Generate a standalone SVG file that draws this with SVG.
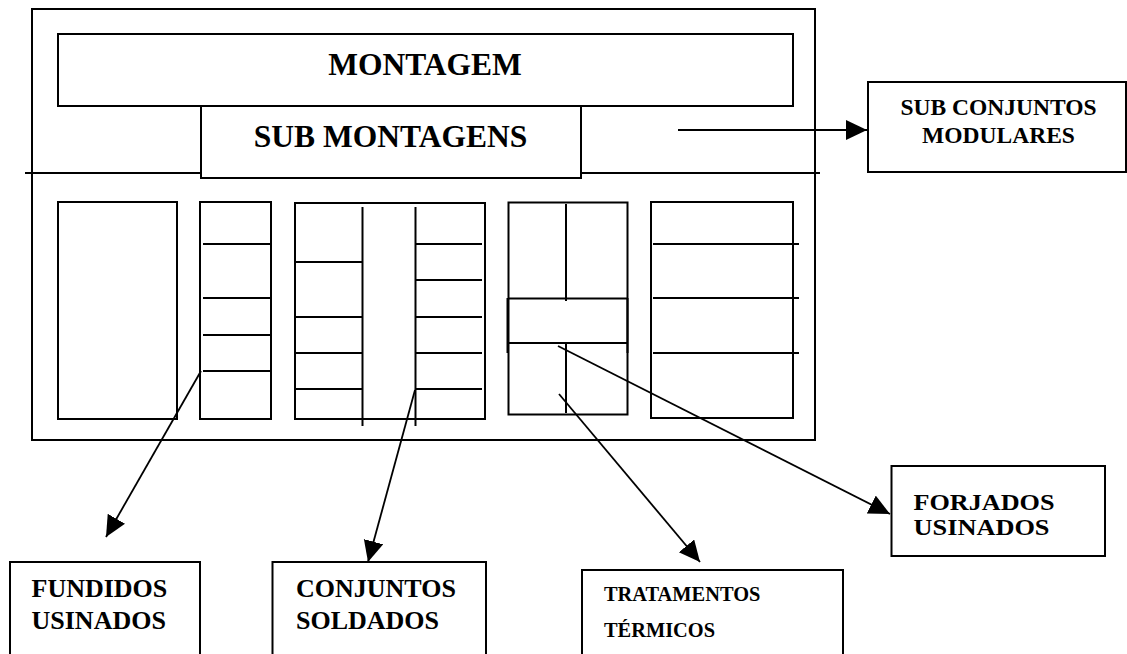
<svg xmlns="http://www.w3.org/2000/svg" width="1127" height="654" viewBox="0 0 1127 654">
<defs>
<style>
.b{fill:#fff;stroke:#000;stroke-width:2}
.l{stroke:#000;stroke-width:2;fill:none}
.c{stroke:#000;stroke-width:1.8;fill:none}
.t{font-family:"Liberation Serif","Times New Roman",serif;font-weight:bold;fill:#000}
</style>
<marker id="ah" markerUnits="userSpaceOnUse" markerWidth="22" markerHeight="22" refX="21" refY="10" orient="auto">
<path d="M0,0 L21,10 L0,20 z" fill="#000"/>
</marker>
</defs>
<rect width="1127" height="654" fill="#fff"/>
<g id="frame">
<rect class="b" x="32" y="9" width="783" height="431" stroke-width="2.5"/>
<line class="l" x1="25" y1="173" x2="201" y2="173"/>
<line class="l" x1="581" y1="173" x2="820" y2="173"/>
</g>
<g id="montagem">
<rect class="b" x="58" y="34" width="735" height="72"/>
<text class="t" x="425" y="75" font-size="31.5" text-anchor="middle">MONTAGEM</text>
</g>
<g id="sub-montagens">
<rect class="b" x="201" y="106" width="380" height="72"/>
<text class="t" x="390.5" y="147" font-size="31.5" text-anchor="middle">SUB MONTAGENS</text>
</g>
<g id="compartimento-1">
<rect class="b" x="58" y="202" width="119" height="217"/>
</g>
<g id="compartimento-2">
<rect class="b" x="200" y="202" width="71" height="217"/>
<line class="l" x1="203" y1="244" x2="270" y2="244"/>
<line class="l" x1="203" y1="298" x2="270" y2="298"/>
<line class="l" x1="203" y1="335" x2="270" y2="335"/>
<line class="l" x1="203" y1="371" x2="270" y2="371"/>
</g>
<g id="compartimento-3">
<rect class="b" x="295" y="203" width="190" height="216"/>
<line class="l" x1="362.5" y1="207" x2="362.5" y2="426"/>
<line class="l" x1="415.5" y1="207" x2="415.5" y2="426"/>
<line class="l" x1="296" y1="262" x2="362" y2="262"/>
<line class="l" x1="296" y1="317" x2="362" y2="317"/>
<line class="l" x1="296" y1="353" x2="362" y2="353"/>
<line class="l" x1="296" y1="389" x2="362" y2="389"/>
<line class="l" x1="415" y1="244" x2="482" y2="244"/>
<line class="l" x1="415" y1="280" x2="482" y2="280"/>
<line class="l" x1="415" y1="317" x2="482" y2="317"/>
<line class="l" x1="415" y1="353" x2="482" y2="353"/>
<line class="l" x1="415" y1="389" x2="482" y2="389"/>
</g>
<g id="compartimento-4">
<rect class="b" x="508.5" y="202.5" width="119" height="212"/>
<line class="l" x1="566" y1="204" x2="566" y2="301"/>
<line class="l" x1="508" y1="298.5" x2="627" y2="298.5"/>
<line class="l" x1="508" y1="343" x2="627" y2="343"/>
<line class="l" x1="507.5" y1="298" x2="507.5" y2="353"/>
<line class="l" x1="627.5" y1="298" x2="627.5" y2="353"/>
<line class="l" x1="566" y1="343" x2="566" y2="413"/>
</g>
<g id="compartimento-5">
<rect class="b" x="651" y="202" width="142" height="216"/>
<line class="l" x1="653" y1="244" x2="799" y2="244"/>
<line class="l" x1="653" y1="298" x2="799" y2="298"/>
<line class="l" x1="653" y1="353" x2="799" y2="353"/>
</g>
<g id="sub-conjuntos-modulares">
<rect class="b" x="868" y="82" width="258" height="90"/>
<text class="t" font-size="23.5" text-anchor="middle"><tspan x="998.5" y="115">SUB CONJUNTOS</tspan><tspan x="998.5" y="143">MODULARES</tspan></text>
</g>
<g id="fundidos-usinados">
<rect class="b" x="10" y="562" width="190" height="100"/>
<text class="t" font-size="26"><tspan x="31.5" y="597">FUNDIDOS</tspan><tspan x="31.5" y="628.5">USINADOS</tspan></text>
</g>
<g id="conjuntos-soldados">
<rect class="b" x="272.5" y="562" width="213.5" height="100"/>
<text class="t" font-size="26"><tspan x="296" y="597">CONJUNTOS</tspan><tspan x="296" y="628.5">SOLDADOS</tspan></text>
</g>
<g id="tratamentos-termicos">
<rect class="b" x="582" y="570" width="261" height="100"/>
<text class="t" font-size="20.4"><tspan x="604" y="601">TRATAMENTOS</tspan><tspan x="604" y="636.5">TÉRMICOS</tspan></text>
</g>
<g id="forjados-usinados">
<rect class="b" x="891.5" y="466" width="213.5" height="90"/>
<text class="t" x="913.5" y="509.5" font-size="22.5" textLength="141" lengthAdjust="spacingAndGlyphs">FORJADOS</text>
<text class="t" x="913.5" y="534.5" font-size="22.5" textLength="136" lengthAdjust="spacingAndGlyphs">USINADOS</text>
</g>
<g id="connectors">
<line class="c" x1="678" y1="130" x2="867" y2="130" marker-end="url(#ah)"/>
<line class="c" x1="201" y1="371" x2="106" y2="537" marker-end="url(#ah)"/>
<line class="c" x1="415" y1="390" x2="368" y2="562" marker-end="url(#ah)"/>
<line class="c" x1="559" y1="394" x2="700" y2="562" marker-end="url(#ah)"/>
<line class="c" x1="558" y1="346" x2="890" y2="514" marker-end="url(#ah)"/>
</g>
</svg>
